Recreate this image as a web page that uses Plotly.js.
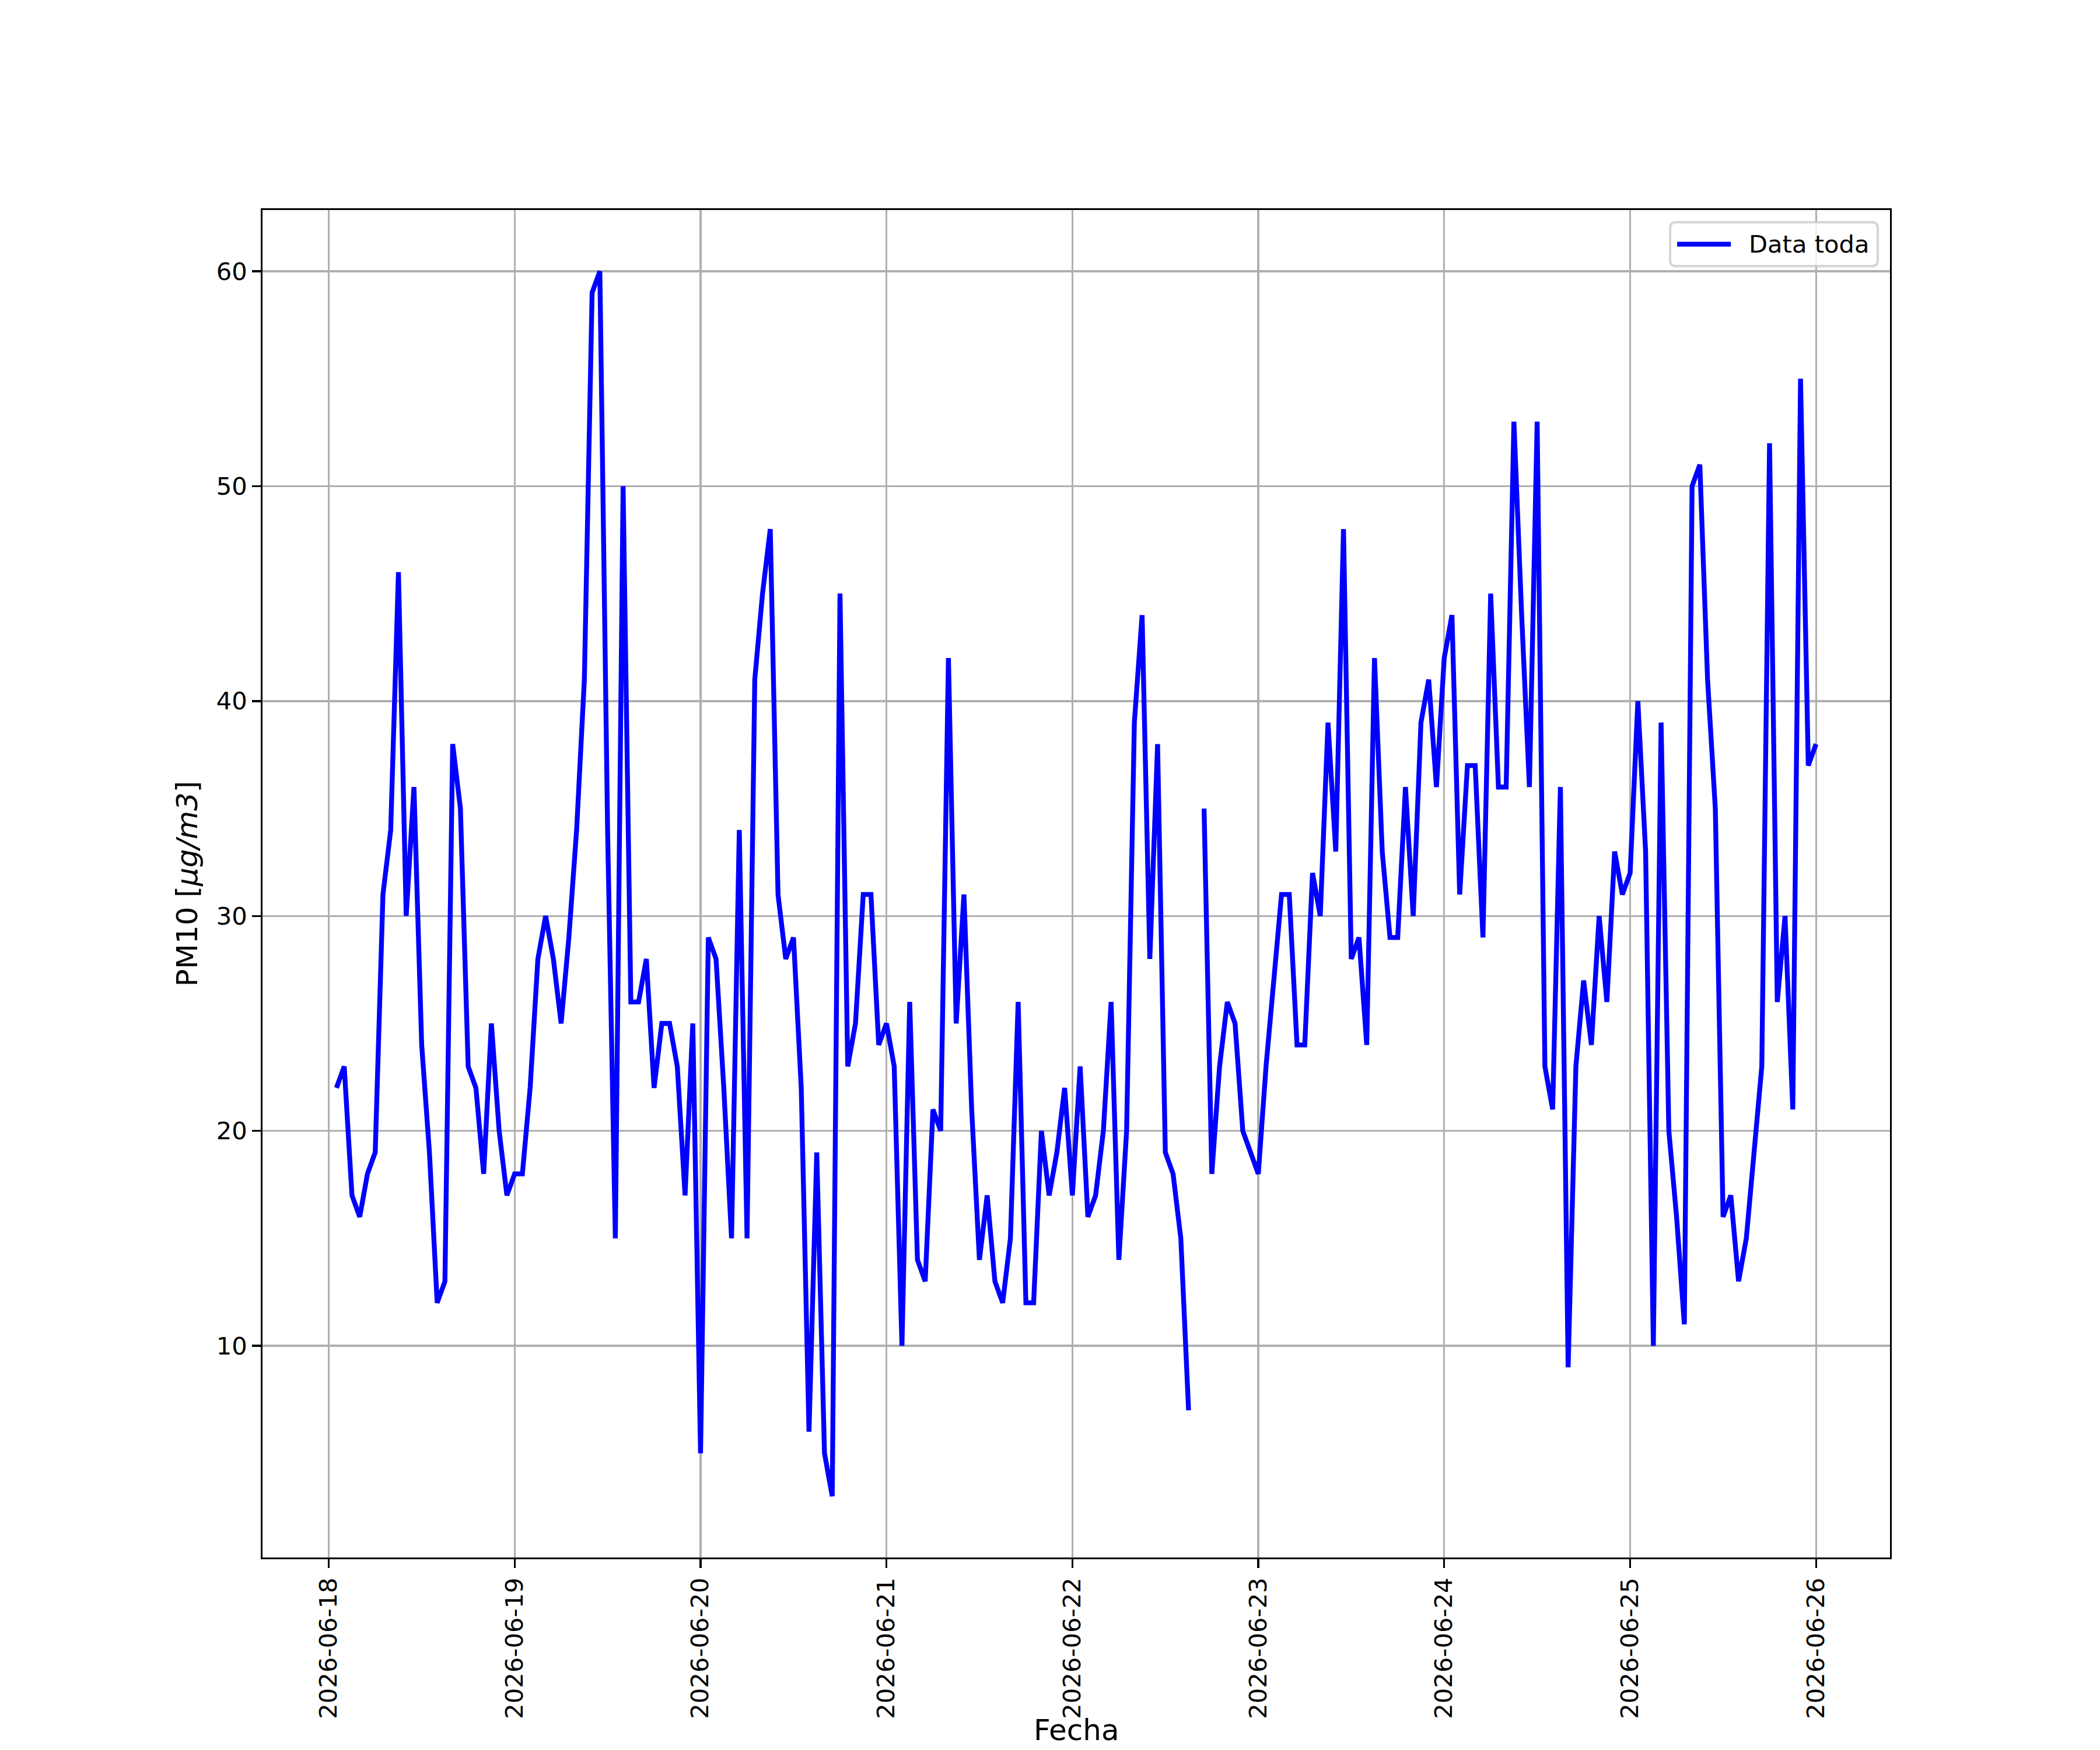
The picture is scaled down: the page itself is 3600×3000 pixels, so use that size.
<!DOCTYPE html>
<html>
<head>
<meta charset="utf-8">
<script src="https://cdn.plot.ly/plotly-3.0.1.min.js"></script>
<style>
  html, body { margin: 0; padding: 0; background: #ffffff; }
  #chart { width: 3600px; height: 3000px; }
</style>
</head>
<body>
<div id="chart"></div>
<script>
// Hourly PM10 readings, each block runs from 01:00 of the day to 00:00 of the next day
const pm10_0618 = [22, 23, 17, 16, 18, 19, 31, 34, 46, 30, 36, 24, 19, 12, 13, 38, 35, 23, 22, 18, 25, 20, 17, 18];
const pm10_0619 = [18, 22, 28, 30, 28, 25, 29, 34, 41, 59, 60, 34, 15, 50, 26, 26, 28, 22, 25, 25, 23, 17, 25, 5];
const pm10_0620 = [29, 28, 22, 15, 34, 15, 41, 45, 48, 31, 28, 29, 22, 6, 19, 5, 3, 45, 23, 25, 31, 31, 24, 25];
const pm10_0621 = [23, 10, 26, 14, 13, 21, 20, 42, 25, 31, 21, 14, 17, 13, 12, 15, 26, 12, 12, 20, 17, 19, 22, 17];
const pm10_0622 = [23, 16, 17, 20, 26, 14, 20, 39, 44, 28, 38, 19, 18, 15, 7, null, 35, 18, 23, 26, 25, 20, 19, 18];
const pm10_0623 = [23, 27, 31, 31, 24, 24, 32, 30, 39, 33, 48, 28, 29, 24, 42, 33, 29, 29, 36, 30, 39, 41, 36, 42];
const pm10_0624 = [44, 31, 37, 37, 29, 45, 36, 36, 53, 44, 36, 53, 23, 21, 36, 9, 23, 27, 24, 30, 26, 33, 31, 32];
const pm10_0625 = [40, 33, 10, 39, 20, 16, 11, 50, 51, 41, 35, 16, 17, 13, 15, 19, 23, 52, 26, 30, 21, 55, 37, 38];

const tickDates = ['2026-06-18', '2026-06-19', '2026-06-20', '2026-06-21', '2026-06-22',
                   '2026-06-23', '2026-06-24', '2026-06-25', '2026-06-26'];
const yTicks = [10, 20, 30, 40, 50, 60];

const seriesName = 'Data toda';
const xLabel = 'Fecha';
const yLabel = 'PM10 [<i>μg/m3</i>]';

// ---- build the series ----
const pm10 = [].concat(pm10_0618, pm10_0619, pm10_0620, pm10_0621,
                       pm10_0622, pm10_0623, pm10_0624, pm10_0625);
const firstMs = Date.UTC(2026, 5, 18, 1, 0, 0);
const HOUR = 3600000;
function pad(n) { return (n < 10 ? '0' : '') + n; }
function fmt(ms) {
  const d = new Date(ms);
  return d.getUTCFullYear() + '-' + pad(d.getUTCMonth() + 1) + '-' + pad(d.getUTCDate()) +
         ' ' + pad(d.getUTCHours()) + ':' + pad(d.getUTCMinutes()) + ':' + pad(d.getUTCSeconds());
}
const times = pm10.map((_, i) => fmt(firstMs + i * HOUR));

// matplotlib-like 5% margins
const lastMs = firstMs + (pm10.length - 1) * HOUR;
const xPad = (lastMs - firstMs) * 0.05;
const xRange = [fmt(firstMs - xPad), fmt(lastMs + xPad)];
const finite = pm10.filter(v => v !== null);
const yMin = Math.min.apply(null, finite), yMax = Math.max.apply(null, finite);
const yPad = (yMax - yMin) * 0.05;
const yRange = [yMin - yPad, yMax + yPad];

const FONT = 'DejaVu Sans, Liberation Sans, sans-serif';
const PT = 300 / 72;

const trace = {
  x: times,
  y: pm10,
  type: 'scatter',
  mode: 'lines',
  name: seriesName,
  line: { color: '#0000ff', width: 2 * PT },
  connectgaps: false,
  showlegend: false,
  hoverinfo: 'x+y'
};

// legend drawn as a matplotlib-style box (paper coordinates)
const lx0 = 0.8649, lx1 = 0.9925, ly0 = 0.9584, ly1 = 0.9909;
const rx = 0.0036, ry = 0.0043;
const legendPath =
  'M' + (lx0 + rx) + ',' + ly1 +
  ' L' + (lx1 - rx) + ',' + ly1 +
  ' Q' + lx1 + ',' + ly1 + ' ' + lx1 + ',' + (ly1 - ry) +
  ' L' + lx1 + ',' + (ly0 + ry) +
  ' Q' + lx1 + ',' + ly0 + ' ' + (lx1 - rx) + ',' + ly0 +
  ' L' + (lx0 + rx) + ',' + ly0 +
  ' Q' + lx0 + ',' + ly0 + ' ' + lx0 + ',' + (ly0 + ry) +
  ' L' + lx0 + ',' + (ly1 - ry) +
  ' Q' + lx0 + ',' + ly1 + ' ' + (lx0 + rx) + ',' + ly1 + ' Z';
const legendY = (ly0 + ly1) / 2;

const layout = {
  width: 3600,
  height: 3000,
  paper_bgcolor: '#ffffff',
  plot_bgcolor: '#ffffff',
  margin: { l: 450, r: 360, t: 360, b: 330, pad: 0 },
  font: { family: FONT, size: 10 * PT, color: '#000000' },
  showlegend: false,
  xaxis: {
    type: 'date',
    range: xRange,
    tickmode: 'array',
    tickvals: tickDates,
    ticktext: tickDates,
    tickangle: -90,
    tickfont: { family: FONT, size: 10 * PT, color: '#000000' },
    ticks: 'outside',
    ticklen: 3.5 * PT,
    tickwidth: 0.8 * PT,
    tickcolor: '#000000',
    showgrid: true,
    gridcolor: '#b0b0b0',
    gridwidth: 0.8 * PT,
    showline: true,
    linecolor: '#000000',
    linewidth: 0.8 * PT,
    mirror: true,
    zeroline: false,
    automargin: false
  },
  yaxis: {
    range: yRange,
    tickmode: 'array',
    tickvals: yTicks,
    ticktext: yTicks.map(String),
    tickfont: { family: FONT, size: 10 * PT, color: '#000000' },
    ticks: 'outside',
    ticklen: 3.5 * PT,
    tickwidth: 0.8 * PT,
    tickcolor: '#000000',
    showgrid: true,
    gridcolor: '#b0b0b0',
    gridwidth: 0.8 * PT,
    showline: true,
    linecolor: '#000000',
    linewidth: 0.8 * PT,
    mirror: true,
    zeroline: false,
    automargin: false,
    title: { text: yLabel, font: { family: FONT, size: 12 * PT, color: '#000000' }, standoff: 4 * PT }
  },
  shapes: [
    {
      type: 'path', xref: 'paper', yref: 'paper', path: legendPath,
      fillcolor: 'rgba(255,255,255,0.8)',
      line: { color: 'rgba(204,204,204,0.8)', width: 1.0 * PT },
      layer: 'above'
    },
    {
      type: 'line', xref: 'paper', yref: 'paper',
      x0: 0.8692, x1: 0.9022, y0: legendY, y1: legendY,
      line: { color: '#0000ff', width: 2 * PT },
      layer: 'above'
    }
  ],
  annotations: [
    {
      xref: 'paper', yref: 'paper', x: 0.9125, y: legendY,
      xanchor: 'left', yanchor: 'middle', showarrow: false,
      text: seriesName,
      font: { family: FONT, size: 10 * PT, color: '#000000' }
    },
    {
      xref: 'paper', yref: 'paper', x: 0.5, y: -0.1281,
      xanchor: 'center', yanchor: 'middle', showarrow: false,
      borderpad: 0,
      text: xLabel,
      font: { family: FONT, size: 12 * PT, color: '#000000' }
    }
  ]
};

Plotly.newPlot('chart', [trace], layout, { staticPlot: true, displayModeBar: false });
</script>
</body>
</html>
